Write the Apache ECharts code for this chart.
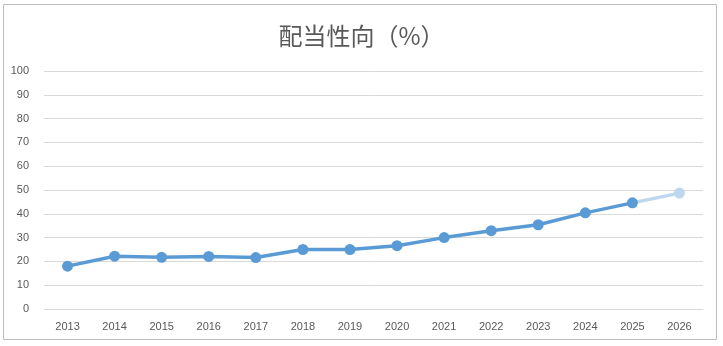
<!DOCTYPE html>
<html><head><meta charset="utf-8">
<script src="https://cdn.jsdelivr.net/npm/echarts@6/dist/echarts.min.js"></script>
<style>html,body{margin:0;padding:0;background:#fff}#c{width:723px;height:346px}</style>
</head><body><div id="c"></div>
<script>
var titleText = '配当性向（%）';
var years = ['2013','2014','2015','2016','2017','2018','2019','2020','2021','2022','2023','2024','2025','2026'];
var actual = [18, 22.2, 21.7, 22.1, 21.6, 25, 25, 26.6, 30, 32.9, 35.4, 40.4, 44.6, null];
var forecast = [null, null, null, null, null, null, null, null, null, null, null, null, 44.6, 48.7];
var yTicks = {min: 0, max: 100, interval: 10};

var chart = echarts.init(document.getElementById('c'));
chart.setOption({
  animation: false,
  graphic: [{type:'rect', shape:{x:3.5,y:4.5,width:713,height:335}, style:{fill:'none', stroke:'#bfbfbf', lineWidth:1}, silent:true}],
  title: {text: titleText, left: 'center', top: 19, textStyle: {fontFamily: 'Noto Sans CJK JP', fontSize: 24, fontWeight: 'normal', color: '#595959'}},
  grid: {left: 44, right: 20, top: 71, bottom: 37},
  xAxis: {type: 'category', data: years, boundaryGap: true,
    axisLine: {show: true, lineStyle: {color: '#d9d9d9'}}, axisTick: {show: false},
    axisLabel: {color: '#595959', fontSize: 11, fontFamily: 'Liberation Sans', margin: 12}},
  yAxis: {type: 'value', min: yTicks.min, max: yTicks.max, interval: yTicks.interval,
    axisLine: {show: false}, axisTick: {show: false},
    splitLine: {lineStyle: {color: '#d9d9d9'}},
    axisLabel: {color: '#595959', fontSize: 11, fontFamily: 'Liberation Sans', margin: 15}},
  series: [
    {type: 'line', data: forecast.map(function(v,i){ return i===12 ? {value:v, symbolSize:0} : v; }), z: 2,
     symbol: 'circle', symbolSize: 11, lineStyle: {color: '#bdd7ee', width: 3.5}, itemStyle: {color: '#bdd7ee'}},
    {type: 'line', data: actual, z: 3,
     symbol: 'circle', symbolSize: 11, lineStyle: {color: '#5b9bd5', width: 3.5}, itemStyle: {color: '#5b9bd5'}}
  ]
});
</script></body></html>
